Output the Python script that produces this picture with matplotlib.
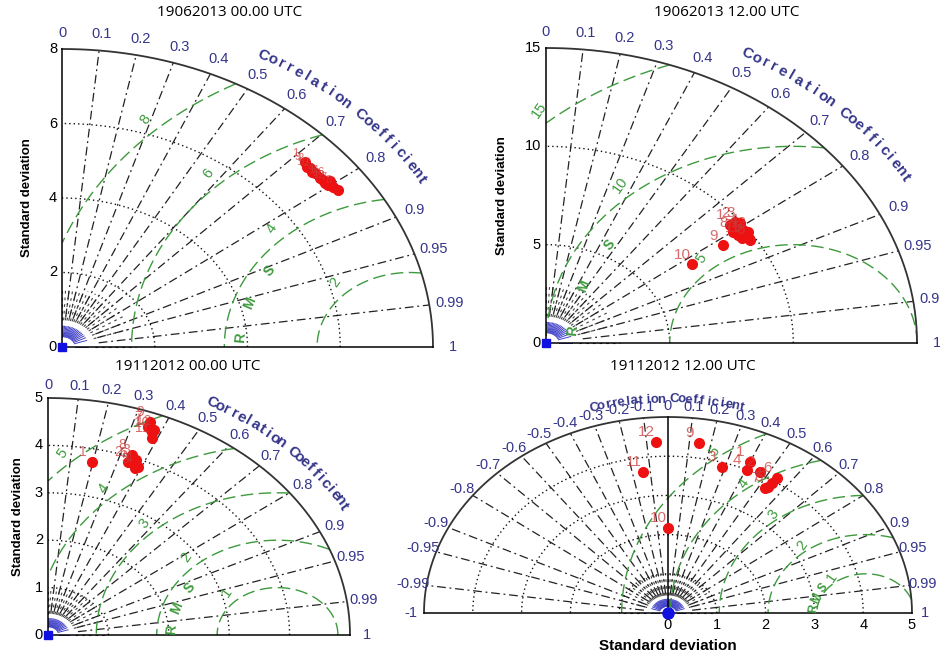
import numpy as np
import matplotlib
matplotlib.use("Agg")
import matplotlib.pyplot as plt

plt.rcParams["font.family"] = ["Liberation Sans", "DejaVu Sans"]

FIG_W, FIG_H = 940, 655

# ---------------- data ----------------
titles = ["19062013 00.00 UTC", "19062013 12.00 UTC",
          "19112012 00.00 UTC", "19112012 12.00 UTC"]

corr_ticks = [0.0, 0.1, 0.2, 0.3, 0.4, 0.5, 0.6, 0.7, 0.8, 0.9, 0.95, 0.99, 1.0]
corr_tick_labels = ["0", "0.1", "0.2", "0.3", "0.4", "0.5", "0.6", "0.7",
                    "0.8", "0.9", "0.95", "0.99", "1"]

# panel A : 19062013 00.00 UTC
a_std = [7.22, 7.20, 7.19, 7.19, 7.19, 7.30, 7.26, 7.30, 7.17, 7.16, 7.21, 7.21]
a_corr = [0.727, 0.744, 0.759, 0.775, 0.790, 0.793, 0.806, 0.816, 0.738, 0.754, 0.782, 0.797]
a_labels = ["1", "2", "3", "4", "5", "6", "7", "8", "9", "10", "11", "12"]
a_ref_std = 7.5
a_std_max = 8
a_std_ticks = [0, 2, 4, 6, 8]
a_std_grid = [2, 4, 6]
a_rms_levels = [2, 4, 6, 8]

# panel B : 19062013 12.00 UTC
b_std = [9.56, 9.81, 9.94, 9.83, 9.76, 9.78, 9.51, 9.43, 8.72, 7.14, 9.56, 9.93]
b_corr = [0.779, 0.780, 0.790, 0.812, 0.834, 0.845, 0.817, 0.803, 0.822, 0.828, 0.830, 0.824]
b_labels = ["1", "2", "3", "4", "5", "6", "7", "8", "9", "10", "11", "12"]
b_ref_std = 10.0
b_std_max = 15
b_std_ticks = [0, 5, 10, 15]
b_std_grid = [5, 10]
b_rms_levels = [5, 10, 15]

# panel C : 19112012 00.00 UTC
c_std = [3.72, 3.88, 3.97, 3.84, 3.80, 3.89, 4.69, 4.05, 4.80, 4.61, 4.50, 4.66]
c_corr = [0.196, 0.340, 0.368, 0.388, 0.379, 0.362, 0.354, 0.343, 0.352, 0.373, 0.382, 0.376]
c_labels = ["1", "2", "3", "4", "5", "6", "7", "8", "9", "10", "11", "12"]
c_ref_std = 3.8
c_std_max = 5
c_std_ticks = [0, 1, 2, 3, 4, 5]
c_std_grid = [1, 2, 3, 4]
c_rms_levels = [1, 2, 3, 4, 5]

# panel D : 19112012 12.00 UTC
d_std = [4.20, 4.07, 3.88, 3.99, 3.81, 4.10, 3.76, 3.94, 4.39, 2.17, 3.64, 4.37]
d_corr = [0.400, 0.465, 0.284, 0.406, 0.538, 0.544, 0.529, 0.540, 0.146, 0.0, -0.140, -0.057]
d_labels = ["1", "2", "3", "4", "5", "6", "7", "8", "9", "10", "11", "12"]
d_ref_std = 4.05
d_std_max = 5
d_std_ticks = [0, 1, 2, 3, 4, 5]
d_std_grid = [1, 2, 3, 4]
d_rms_levels = [1, 2, 3, 4, 5]

# ---------------- styles / layout ----------------
NAVY = "#35358a"
GREEN = "#3d9a3d"
RED_TXT = "#cc3a3a"

panels = [
    dict(box=(62, 433, 49, 347), half=False, std=a_std, corr=a_corr, labels=a_labels,
         ref=a_ref_std, R=a_std_max, ticks=a_std_ticks, grid=a_std_grid, rms=a_rms_levels,
         title=titles[0], title_xy=(230, 12), ylab_off=35, lab_fs=8,
         rms_ang=133, rms_lr=3.65, cc_r=1.12, cc_span=(61, 30)),
    dict(box=(546, 917, 48, 343), half=False, std=b_std, corr=b_corr, labels=b_labels,
         ref=b_ref_std, R=b_std_max, ticks=b_std_ticks, grid=b_std_grid, rms=b_rms_levels,
         title=titles[1], title_xy=(727, 12), ylab_off=44, lab_fs=11,
         rms_ang=131, rms_lr=8.95, cc_r=1.12, cc_span=(61, 30)),
    dict(box=(48, 350, 398, 635), half=False, std=c_std, corr=c_corr, labels=c_labels,
         ref=c_ref_std, R=c_std_max, ticks=c_std_ticks, grid=c_std_grid, rms=c_rms_levels,
         title=titles[2], title_xy=(188, 367), ylab_off=30, lab_fs=10,
         rms_ang=133, rms_lr=1.76, cc_r=1.12, cc_span=(61, 29)),
    dict(box=(424, 912, 417, 613), half=True, std=d_std, corr=d_corr, labels=d_labels,
         ref=d_ref_std, R=d_std_max, ticks=d_std_ticks, grid=d_std_grid, rms=d_rms_levels,
         title=titles[3], title_xy=(683, 367), ylab_off=0, lab_fs=11,
         rms_ang=127, rms_lr=1.07, cc_r=1.09, cc_span=(106, 74)),
]

fig = plt.figure(figsize=(FIG_W / 100, FIG_H / 100), dpi=100)
fig.patch.set_facecolor("white")

RAY_STYLE = dict(color="#222222", lw=0.9, linestyle=(0, (7, 3, 1.5, 3)), clip_on=False)


def draw(p):
    x0, x1, yt, yb = p["box"]
    R = p["R"]
    half = p["half"]
    xmin = -R if half else 0
    ax = fig.add_axes([x0 / FIG_W, 1 - yb / FIG_H, (x1 - x0) / FIG_W, (yb - yt) / FIG_H])
    ax.set_xlim(xmin, R)
    ax.set_ylim(0, R)
    ax.axis("off")
    sx = (x1 - x0) / (R - xmin)
    sy = (yb - yt) / R

    def rot(th):
        return np.degrees(np.arctan2(-sy * np.cos(th), sx * np.sin(th)))

    thmax = np.pi if half else np.pi / 2

    # sparse short rays near the origin (texture of the original diagram)
    fine = np.linspace(-1 if half else 0, 1, 41 if half else 21)
    for c in fine:
        th = np.arccos(c)
        ax.plot([0.09 * R * np.cos(th), 0.2 * R * np.cos(th)],
                [0.09 * R * np.sin(th), 0.2 * R * np.sin(th)],
                color="#444444", lw=0.8, linestyle=(0, (2.5, 3.5)), clip_on=False)
        ax.plot([0.035 * R * np.cos(th), 0.07 * R * np.cos(th)],
                [0.035 * R * np.sin(th), 0.07 * R * np.sin(th)],
                color="#4040c8", lw=0.7, clip_on=False)

    # main correlation rays
    main = [c for c in corr_ticks if 0 < c < 1]
    if half:
        main = main + [-c for c in main]
    for c in main:
        th = np.arccos(c)
        ax.plot([0.1 * R * np.cos(th), R * np.cos(th)],
                [0.1 * R * np.sin(th), R * np.sin(th)], **RAY_STYLE)

    # std circles (dotted)
    t = np.linspace(0, thmax, 300)
    for s in p["grid"]:
        ax.plot(s * np.cos(t), s * np.sin(t), color="#111111", lw=1.0,
                linestyle=(0, (1, 2.2)), clip_on=False)

    # RMS arcs
    phi = np.linspace(0, np.pi, 800)
    for r in p["rms"]:
        xs = p["ref"] + r * np.cos(phi)
        ys = r * np.sin(phi)
        m = (np.hypot(xs, ys) <= R) & (xs >= xmin)
        xs = np.where(m, xs, np.nan)
        ys = np.where(m, ys, np.nan)
        ax.plot(xs, ys, color=GREEN, lw=1.0, linestyle=(0, (9, 4)), clip_on=False)
        ang = np.radians(p["rms_ang"])
        d = 0.03 * R if half else 0.045 * R
        ax.text(p["ref"] + (r + d) * np.cos(ang), (r + d) * np.sin(ang), str(r),
                color=GREEN, fontsize=10.5, rotation=55, ha="center", va="center",
                rotation_mode="anchor", clip_on=False)
    # RMS letters
    letter_angs = [174, 159, 144] if half else [176, 161, 146]
    for ch, a in zip("RMS", letter_angs):
        ar = np.radians(a)
        ax.text(p["ref"] + p["rms_lr"] * np.cos(ar), p["rms_lr"] * np.sin(ar), ch,
                color=GREEN, fontsize=8.5 if half else 10, fontweight="bold",
                rotation=rot(ar), ha="center", va="center", rotation_mode="anchor")

    # outer arc and axes
    ax.plot(R * np.cos(t), R * np.sin(t), color="#333333", lw=1.3, clip_on=False)
    if half:
        ax.plot([-R, R], [0, 0], color="black", lw=1.1, clip_on=False)
        ax.plot([0, 0], [0, R], color="black", lw=1.1, clip_on=False)
    else:
        ax.plot([0, R], [0, 0], color="black", lw=1.1, clip_on=False)
        ax.plot([0, 0], [0, R], color="black", lw=1.1, clip_on=False)

    # correlation tick labels
    cl = list(zip(corr_ticks, corr_tick_labels))
    if half:
        cl = cl + [(-c, "-" + l) for c, l in zip(corr_ticks[1:], corr_tick_labels[1:])]
    for c, l in cl:
        th = np.arccos(c)
        ax.text(1.055 * R * np.cos(th), 1.055 * R * np.sin(th), l, color=NAVY,
                fontsize=10.5, ha="center", va="center", clip_on=False)

    # curved "Correlation Coefficient"
    txt = "Correlation Coefficient"
    a0, a1 = p["cc_span"]
    angs = np.radians(np.linspace(a0, a1, len(txt)))
    for ch, a in zip(txt, angs):
        if ch == " ":
            continue
        ax.text(p["cc_r"] * R * np.cos(a), p["cc_r"] * R * np.sin(a), ch, color=NAVY,
                fontsize=9.5 if half else 11, fontweight="bold", rotation=rot(a),
                ha="center", va="center", rotation_mode="anchor", clip_on=False)

    # std tick labels
    if half:
        for v in p["ticks"]:
            ax.text(v, -12 / sy, str(v), fontsize=10.5, ha="center", va="center")
        ax.text(0, -33 / sy, "Standard deviation", fontsize=11, fontweight="bold",
                ha="center", va="center")
    else:
        for v in p["ticks"]:
            ax.text(-5 / sx, v, str(v), fontsize=10.5, ha="right", va="center")
        ax.text(-p["ylab_off"] / sx, R / 2, "Standard deviation", fontsize=9.5,
                fontweight="bold", rotation=90, ha="center", va="center")

    # reference marker at origin
    if half:
        ax.plot([0], [0], "o", color="#1010e0", ms=8, clip_on=False, zorder=5)
    else:
        ax.plot([0], [0], "s", color="#1010e0", ms=6, clip_on=False, zorder=5)

    # model points
    std = np.array(p["std"])
    cor = np.array(p["corr"])
    th = np.arccos(cor)
    xs = std * np.cos(th)
    ys = std * np.sin(th)
    ax.plot(xs, ys, "o", color="#ee1111", ms=7, clip_on=False, zorder=6)
    for x, y, l in zip(xs, ys, p["labels"]):
        ax.annotate(l, (x, y), xytext=(-7, 7), textcoords="offset points",
                    color=RED_TXT, alpha=0.75, fontsize=p["lab_fs"],
                    ha="center", va="center", zorder=7)

    fig.text(p["title_xy"][0] / FIG_W, 1 - p["title_xy"][1] / FIG_H, p["title"],
             fontsize=11, ha="center", va="center", family=["Open Sans", "DejaVu Sans"])


for p in panels:
    draw(p)

fig.savefig("out.png", dpi=100, facecolor="white")
